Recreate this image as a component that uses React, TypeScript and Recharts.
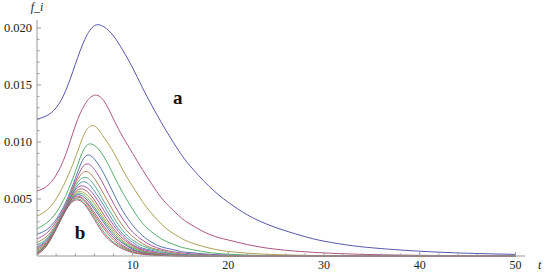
import { LineChart, Line, XAxis, YAxis, ReferenceDot } from "recharts";

// time grid shared by all curves
const T = [0, 1, 2, 3, 4, 5, 6, 7, 8, 9, 10, 11, 12, 13, 14, 15, 16, 18, 20, 22, 24, 26, 28, 30, 33, 36, 40, 45, 50];

// f_i curves, top ("a") to bottom ("b")
const F1 = [0.012, 0.0123, 0.013, 0.0145, 0.0168, 0.019, 0.0202, 0.0201, 0.0193, 0.018, 0.0165, 0.0148, 0.0132, 0.0117, 0.0103, 0.009, 0.0079, 0.0061, 0.0047, 0.0036, 0.0028, 0.0022, 0.0017, 0.0013, 0.0009, 0.00065, 0.00042, 0.00024, 0.00014];
const F2 = [0.0057, 0.0061, 0.0071, 0.0089, 0.0114, 0.0133, 0.0141, 0.0136, 0.012, 0.0104, 0.009, 0.0076, 0.0063, 0.0051, 0.0042, 0.0034, 0.0028, 0.0019, 0.0014, 0.001, 0.0007, 0.0005, 0.00037, 0.00027, 0.00017, 0.00011, 0.00006, 0.00003, 0.00002];
const F3 = [0.0035, 0.004, 0.005, 0.0066, 0.0086, 0.0108, 0.0114, 0.0104, 0.0091, 0.0075, 0.0061, 0.0048, 0.0037, 0.0028, 0.0021, 0.0016, 0.0012, 0.0007, 0.0004, 0.00025, 0.00015, 0.0001, 0.00006, 0.00004, 0.00002, 0.00001, 0.00001, 0, 0];
const F4 = [0.0024, 0.0029, 0.0038, 0.0053, 0.0074, 0.0095, 0.0097, 0.0087, 0.0071, 0.0055, 0.0041, 0.0029, 0.0021, 0.0015, 0.0011, 0.0008, 0.0006, 0.0003, 0.00016, 0.00008, 0.00004, 0.00002, 0.00001, 0, 0, 0, 0, 0, 0];
const F5 = [0.0019, 0.0023, 0.0032, 0.0047, 0.0068, 0.0087, 0.0085, 0.0072, 0.0055, 0.0039, 0.0027, 0.0018, 0.0012, 0.0008, 0.0006, 0.0004, 0.0003, 0.00015, 0.00007, 0.00003, 0.00002, 0.00001, 0, 0, 0, 0, 0, 0, 0];
const F6 = [0.0015, 0.002, 0.003, 0.0045, 0.0065, 0.008, 0.0076, 0.0062, 0.0046, 0.0032, 0.0021, 0.0014, 0.0009, 0.0006, 0.0004, 0.00028, 0.0002, 0.0001, 0.00005, 0.00002, 0.00001, 0, 0, 0, 0, 0, 0, 0, 0];
const F7 = [0.0012, 0.0017, 0.0028, 0.0044, 0.0063, 0.0074, 0.0068, 0.0054, 0.0039, 0.0026, 0.0017, 0.0011, 0.0007, 0.0005, 0.0003, 0.0002, 0.00013, 0.00006, 0.00003, 0.00001, 0, 0, 0, 0, 0, 0, 0, 0, 0];
const F8 = [0.001, 0.0015, 0.0027, 0.0043, 0.0061, 0.0069, 0.0062, 0.0048, 0.0034, 0.0022, 0.0014, 0.0009, 0.0006, 0.0004, 0.0002, 0.00015, 0.0001, 0.00004, 0.00002, 0.00001, 0, 0, 0, 0, 0, 0, 0, 0, 0];
const F9 = [0.0008, 0.0014, 0.0026, 0.0042, 0.0059, 0.0065, 0.0057, 0.0044, 0.003, 0.0019, 0.0012, 0.0007, 0.0005, 0.0003, 0.0002, 0.0001, 0.00007, 0.00003, 0.00001, 0, 0, 0, 0, 0, 0, 0, 0, 0, 0];
const F10 = [0.0007, 0.0013, 0.0025, 0.0042, 0.0058, 0.0061, 0.0053, 0.004, 0.0027, 0.0017, 0.001, 0.0006, 0.0004, 0.0002, 0.00013, 0.00008, 0.00005, 0.00002, 0.00001, 0, 0, 0, 0, 0, 0, 0, 0, 0, 0];
const F11 = [0.0006, 0.0012, 0.0025, 0.0041, 0.0056, 0.0058, 0.0049, 0.0036, 0.0024, 0.0015, 0.0009, 0.0005, 0.0003, 0.0002, 0.0001, 0.00006, 0.00004, 0.00002, 0.00001, 0, 0, 0, 0, 0, 0, 0, 0, 0, 0];
const F12 = [0.0005, 0.0011, 0.0025, 0.0041, 0.0055, 0.0055, 0.0046, 0.0033, 0.0022, 0.0013, 0.0008, 0.0004, 0.00025, 0.00015, 0.00008, 0.00005, 0.00003, 0.00001, 0, 0, 0, 0, 0, 0, 0, 0, 0, 0, 0];
const F13 = [0.0004, 0.0011, 0.0024, 0.0041, 0.0054, 0.0053, 0.0043, 0.0031, 0.002, 0.0012, 0.0007, 0.0004, 0.0002, 0.00012, 0.00007, 0.00004, 0.00002, 0.00001, 0, 0, 0, 0, 0, 0, 0, 0, 0, 0, 0];
const F14 = [0.0003, 0.001, 0.0024, 0.0041, 0.0053, 0.0051, 0.0041, 0.0029, 0.0018, 0.0011, 0.0006, 0.0003, 0.00018, 0.0001, 0.00005, 0.00003, 0.00002, 0.00001, 0, 0, 0, 0, 0, 0, 0, 0, 0, 0, 0];
const F15 = [0.00025, 0.001, 0.0024, 0.0041, 0.0052, 0.0049, 0.0038, 0.0026, 0.0016, 0.0009, 0.0005, 0.00028, 0.00015, 0.00008, 0.00004, 0.00002, 0.00001, 0, 0, 0, 0, 0, 0, 0, 0, 0, 0, 0, 0];
const F16 = [0.0002, 0.001, 0.0024, 0.004, 0.0051, 0.0048, 0.0036, 0.0024, 0.0014, 0.0008, 0.0004, 0.00022, 0.00012, 0.00006, 0.00003, 0.00002, 0.00001, 0, 0, 0, 0, 0, 0, 0, 0, 0, 0, 0, 0];
const F17 = [0.00015, 0.0009, 0.0024, 0.004, 0.005, 0.0046, 0.0034, 0.0021, 0.0012, 0.0007, 0.00035, 0.00018, 0.0001, 0.00005, 0.00003, 0.00001, 0.00001, 0, 0, 0, 0, 0, 0, 0, 0, 0, 0, 0, 0];
const F18 = [0.0001, 0.0009, 0.0024, 0.004, 0.0049, 0.0045, 0.0032, 0.0019, 0.0011, 0.0006, 0.0003, 0.00015, 0.00008, 0.00004, 0.00002, 0.00001, 0.00001, 0, 0, 0, 0, 0, 0, 0, 0, 0, 0, 0, 0];

const SERIES = [F1, F2, F3, F4, F5, F6, F7, F8, F9, F10, F11, F12, F13, F14, F15, F16, F17, F18];

const X_TICKS = [2, 4, 6, 8, 10, 12, 14, 16, 18, 20, 22, 24, 26, 28, 30, 32, 34, 36, 38, 40, 42, 44, 46, 48, 50];
const Y_TICKS = [0.001, 0.002, 0.003, 0.004, 0.005, 0.006, 0.007, 0.008, 0.009, 0.01, 0.011, 0.012, 0.013, 0.014, 0.015, 0.016, 0.017, 0.018, 0.019, 0.02];

// mathematica-ish default plot colours
const COLORS = ["#5656ae", "#ae5682", "#aea056", "#56ae6c", "#5674ae", "#ae56a0", "#ae8256", "#56ae8c", "#5692ae", "#9e56ae", "#ae5664", "#a6ae56", "#56ae5a", "#5664ae", "#ae5690", "#ae7056", "#56ae7c", "#ae5670"];

const rows = T.map((t, i) => {
  const r: Record<string, number> = { t };
  SERIES.forEach((s, k) => (r["f" + k] = s[i]));
  return r;
});

const AXIS = "#999999";
const FONT = "Liberation Serif";
const txt = { fontFamily: FONT };

function XTick(p: any) {
  const major = p.payload.value % 10 === 0;
  return (
    <g>
      <line x1={p.x} x2={p.x} y1={p.y} y2={p.y - (major ? 4 : 2.5)} stroke={AXIS} />
      {major && (
        <text x={p.x} y={p.y + 13} textAnchor="middle" fontSize={12} style={txt} fill="#222">
          {p.payload.value}
        </text>
      )}
    </g>
  );
}

function YTick(p: any) {
  const v = p.payload.value as number;
  const major = Math.round(v * 1000) % 5 === 0;
  return (
    <g>
      <line x1={p.x} x2={p.x + (major ? 4 : 2.5)} y1={p.y} y2={p.y} stroke={AXIS} />
      {major && (
        <text x={p.x - 5} y={p.y + 4} textAnchor="end" fontSize={12.5} style={txt} fill="#222">
          {v.toFixed(3)}
        </text>
      )}
    </g>
  );
}

export default function App() {
  return (
    <div style={{ position: "absolute", left: 0, top: 0, background: "#fff", fontFamily: FONT }}>
      <LineChart width={545} height={273} data={rows} margin={{ top: 20, right: 20, bottom: 0, left: 0 }} style={txt}>
        <XAxis
          dataKey="t"
          type="number"
          domain={[0, 51]}
          ticks={X_TICKS}
          interval={0}
          stroke={AXIS}
          tickSize={0}
          tickMargin={0}
          tickLine={false}
          tick={XTick}
          height={17}
          label={{ value: "t", position: "right", offset: 13, fontStyle: "italic", fontSize: 12, style: txt, fill: "#222" }}
        />
        <YAxis
          type="number"
          domain={[0, 0.0207]}
          ticks={Y_TICKS}
          interval={0}
          stroke={AXIS}
          tickSize={0}
          tickMargin={0}
          tickLine={false}
          tick={YTick}
          width={37}
        />
        {SERIES.map((_, k) => (
          <Line
            key={k}
            dataKey={"f" + k}
            type="natural"
            stroke={COLORS[k]}
            strokeWidth={1}
            dot={false}
            isAnimationActive={false}
          />
        ))}
        <ReferenceDot x={0} y={0.0207} r={0} ifOverflow="visible" label={{ value: "f_i", position: "top", offset: 9, fontStyle: "italic", fontSize: 12, style: txt, fill: "#222" }} />
        <ReferenceDot x={14.7} y={0.0139} r={0} ifOverflow="visible" label={{ value: "a", position: "center", fontWeight: "bold", fontSize: 19, style: txt, fill: "#111" }} />
        <ReferenceDot x={4.5} y={0.0021} r={0} ifOverflow="visible" label={{ value: "b", position: "center", fontWeight: "bold", fontSize: 19, style: txt, fill: "#111" }} />
      </LineChart>
    </div>
  );
}
